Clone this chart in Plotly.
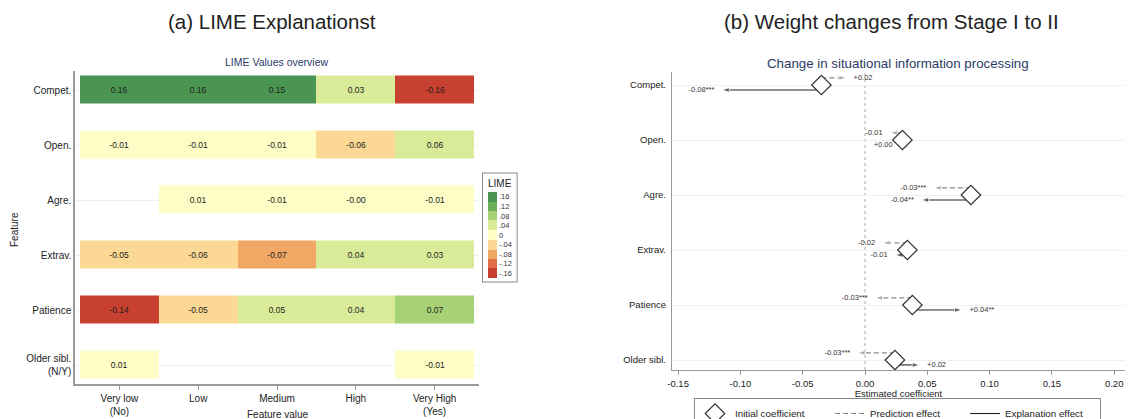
import plotly.graph_objects as go

W, H = 1128, 419

# ---------------- data ----------------
features = ["Compet.", "Open.", "Agre.", "Extrav.", "Patience", "Older sibl."]
features_left = ["Compet.", "Open.", "Agre.", "Extrav.", "Patience", "Older sibl.<br>(N/Y)"]
levels = ["Very low<br>(No)", "Low", "Medium", "High", "Very High<br>(Yes)"]

lime_compet = [0.16, 0.16, 0.15, 0.03, -0.16]
lime_open = [-0.01, -0.01, -0.01, -0.06, 0.06]
lime_agre = [None, 0.01, -0.01, -0.004, -0.01]
lime_extrav = [-0.05, -0.06, -0.07, 0.04, 0.03]
lime_patience = [-0.14, -0.05, 0.05, 0.04, 0.07]
lime_older = [0.01, None, None, None, -0.01]

legend_ticks = [-0.16, -0.12, -0.08, -0.04, 0.0, 0.04, 0.08, 0.12, 0.16]
legend_labels = ["-.16", "-.12", "-.08", "-.04", "0", ".04", ".08", ".12", ".16"]

initial_coef = [-0.035, 0.030, 0.085, 0.034, 0.038, 0.024]
prediction_effect = [0.02, -0.01, -0.03, -0.02, -0.03, -0.03]
explanation_effect = [-0.08, -0.002, -0.04, -0.01, 0.04, 0.02]
prediction_labels = ["+0.02", "-0.01", "-0.03***", "-0.02", "-0.03***", "-0.03***"]
explanation_labels = ["-0.08***", "+0.00", "-0.04**", "-0.01", "+0.04**", "+0.02"]

coef_ticks = [-0.15, -0.10, -0.05, 0.0, 0.05, 0.10, 0.15, 0.20]
coef_tick_labels = ["-0.15", "-0.10", "-0.05", "0.00", "0.05", "0.10", "0.15", "0.20"]

# ---------------- styling ----------------
FONT = "Liberation Sans, Arial, sans-serif"
bin_colors = ["#c8402f", "#e06e47", "#f1a865", "#fbd893", "#fefdc6",
              "#d9eb99", "#a6d175", "#6aae5b", "#4a9552"]
bin_edges = [-0.18, -0.139, -0.10, -0.061, -0.02, 0.02, 0.061, 0.10, 0.14, 0.18]
zmin, zmax = bin_edges[0], bin_edges[-1]
colorscale = []
for i, c in enumerate(bin_colors):
    colorscale.append([(bin_edges[i] - zmin) / (zmax - zmin), c])
    colorscale.append([(bin_edges[i + 1] - zmin) / (zmax - zmin), c])

z = [lime_compet, lime_open, lime_agre, lime_extrav, lime_patience, lime_older]
text = [["" if v is None else f"{v:.2f}" for v in row] for row in z]

def px(x):
    return x / W

def py(y):
    return (H - y) / H

fig = go.Figure()

fig.add_trace(go.Heatmap(
    x=list(range(len(levels))), y=list(range(len(features))), z=z,
    text=text, texttemplate="%{text}", textfont=dict(size=8.5, color="#222", family=FONT),
    colorscale=colorscale, zmin=zmin, zmax=zmax, ygap=27, xgap=0,
    hoverinfo="skip",
    colorbar=dict(
        title=dict(text="LIME", side="top", font=dict(size=10, family=FONT, color="#222")),
        x=px(483), xanchor="left", y=py(173), yanchor="top",
        lenmode="pixels", len=108, thickness=9, thicknessmode="pixels",
        tickvals=legend_ticks, ticktext=legend_labels, ticks="",
        tickfont=dict(size=7.5, family=FONT, color="#333"),
        outlinewidth=0, bordercolor="#888", borderwidth=1, xpad=5, ypad=3,
    ),
    xaxis="x", yaxis="y",
))

# ---------------- right panel ----------------
DASH_OFF, SOLID_OFF = -0.13, 0.09
for i in range(len(features)):
    s = initial_coef[i]
    e = s + prediction_effect[i]
    fig.add_trace(go.Scatter(
        x=[s, e], y=[i + DASH_OFF, i + DASH_OFF], mode="lines+markers",
        line=dict(color="#8a8a8a", width=1.2, dash="5px,3px"),
        marker=dict(symbol="arrow", size=[0, 8], angleref="previous", color="#8a8a8a"),
        xaxis="x2", yaxis="y2", showlegend=False, hoverinfo="skip"))
    e2 = s + explanation_effect[i]
    fig.add_trace(go.Scatter(
        x=[s, e2], y=[i + SOLID_OFF, i + SOLID_OFF], mode="lines+markers",
        line=dict(color="#222", width=1.1),
        marker=dict(symbol="arrow", size=[0, 8], angleref="previous", color="#222"),
        xaxis="x2", yaxis="y2", showlegend=False, hoverinfo="skip"))

lab_x, lab_y, lab_t, lab_p = [], [], [], []
for i in range(len(features)):
    s = initial_coef[i]
    lab_x.append(s + prediction_effect[i]); lab_y.append(i + DASH_OFF)
    lab_t.append(prediction_labels[i])
    lab_p.append("middle left" if prediction_effect[i] < 0 else "middle right")
    lab_x.append(s + explanation_effect[i]); lab_y.append(i + SOLID_OFF)
    lab_t.append(explanation_labels[i])
    lab_p.append("middle left" if explanation_effect[i] < 0 else "middle right")
fig.add_trace(go.Scatter(
    x=lab_x, y=lab_y, text=lab_t, mode="markers+text", textposition=lab_p,
    marker=dict(size=10, opacity=0),
    textfont=dict(size=7.5, color="#333", family=FONT),
    xaxis="x2", yaxis="y2", showlegend=False, hoverinfo="skip"))

fig.add_trace(go.Scatter(
    x=initial_coef, y=list(range(len(features))), mode="markers",
    marker=dict(symbol="diamond", size=15, color="white", line=dict(color="#333", width=1.2)),
    name="Initial coefficient", xaxis="x2", yaxis="y2", hoverinfo="skip"))
fig.add_trace(go.Scatter(
    x=[None], y=[None], mode="lines", name="Prediction effect",
    line=dict(color="#8a8a8a", width=1.2, dash="5px,3px"), xaxis="x2", yaxis="y2"))
fig.add_trace(go.Scatter(
    x=[None], y=[None], mode="lines", name="Explanation effect",
    line=dict(color="#222", width=1.1), xaxis="x2", yaxis="y2"))

fig.add_shape(type="line", xref="x2", yref="y2 domain", x0=0, x1=0, y0=0, y1=1,
              line=dict(color="#aaaaaa", width=1, dash="dot"), layer="below")

# pixel geometry of the two plot areas
L_x0, L_x1, L_y0, L_y1 = 75, 479, 71, 384          # left panel box
L_c0, L_cw = 80, 78.8                              # first cell edge, cell width
L_r0, L_rs = 90, 55                                # first row center, row step
R_x0, R_x1, R_y0, R_y1 = 672, 1125, 72, 370         # right panel box
R_zero, R_scale = 865, 1246                        # x pixel of 0, px per unit
R_r0, R_rs = 85, 55

fig.update_layout(
    width=W, height=H, margin=dict(l=0, r=0, t=0, b=0, autoexpand=False),
    paper_bgcolor="white", plot_bgcolor="white",
    font=dict(family=FONT, color="#222"),
    xaxis=dict(domain=[px(L_x0), px(L_x1)],
               range=[-0.5 - (L_c0 - L_x0) / L_cw, -0.5 + (L_x1 - L_c0) / L_cw],
               anchor="y", automargin=False,
               tickvals=list(range(len(levels))), ticktext=levels,
               ticks="outside", ticklen=4, tickcolor="#999",
               showline=True, linecolor="#999", linewidth=1.5,
               showgrid=False, zeroline=False, tickfont=dict(size=10)),
    yaxis=dict(domain=[py(L_y1), py(L_y0)],
               range=[(L_y1 - L_r0) / L_rs, (L_y0 - L_r0) / L_rs], anchor="x",
               automargin=False,
               tickvals=list(range(len(features))), ticktext=features_left,
               ticks="", showline=True, linecolor="#999", linewidth=1.5,
               showgrid=True, gridcolor="#eeeeee", zeroline=False,
               tickfont=dict(size=10), ticklabelstandoff=0),
    xaxis2=dict(domain=[px(R_x0), px(R_x1)],
                range=[(R_x0 - R_zero) / R_scale, (R_x1 - R_zero) / R_scale],
                anchor="y2", automargin=False, tickvals=coef_ticks, ticktext=coef_tick_labels,
                ticks="outside", ticklen=4, tickcolor="#999",
                showline=True, linecolor="#999", linewidth=1.2,
                showgrid=False, zeroline=False, tickfont=dict(size=9.5),
                title=dict(text="Estimated coefficient", font=dict(size=9.5), standoff=1)),
    yaxis2=dict(domain=[py(R_y1), py(R_y0)],
                range=[(R_y1 - R_r0) / R_rs, (R_y0 - R_r0) / R_rs], anchor="x2",
                automargin=False,
                tickvals=list(range(len(features))), ticktext=features,
                ticks="", showline=True, linecolor="#999", linewidth=1.2,
                showgrid=True, gridcolor="#f0f0f0", zeroline=False,
                tickfont=dict(size=9.5), ticklabelstandoff=3),
    legend=dict(orientation="h", x=px(694), y=py(398), xanchor="left", yanchor="top",
                bordercolor="#888", borderwidth=1, font=dict(size=9.8),
                bgcolor="white", itemwidth=30, entrywidth=90, entrywidthmode="pixels"),
    showlegend=True,
)

annos = [
    dict(text="(a) LIME Explanationst", x=272, y=22, size=20.5, color="#222"),
    dict(text="(b) Weight changes from Stage I to II", x=891, y=22, size=20.5, color="#222"),
    dict(text="LIME Values overview", x=277, y=62, size=10.5, color="#2b3a67"),
    dict(text="Change in situational information processing", x=898, y=64, size=13.3, color="#2b3a67"),
    dict(text="Feature value", x=278, y=414, size=10, color="#222"),
]
for a in annos:
    fig.add_annotation(text=a["text"], x=px(a["x"]), y=py(a["y"]), xref="paper", yref="paper",
                       xanchor="center", yanchor="middle", showarrow=False,
                       font=dict(size=a["size"], color=a["color"], family=FONT))
fig.add_annotation(text="Feature", x=px(14), y=py(230), xref="paper", yref="paper",
                   xanchor="center", yanchor="middle", showarrow=False, textangle=-90,
                   font=dict(size=10, color="#222", family=FONT))

fig.write_html("out.html", config={"displayModeBar": False},
               post_script="document.body.style.margin='0px';")
